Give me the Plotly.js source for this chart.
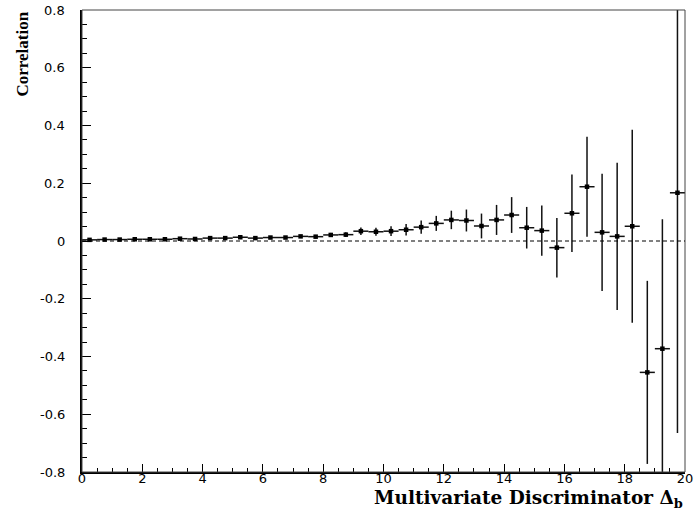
<!DOCTYPE html>
<html>
<head>
<meta charset="utf-8">
<script src="https://cdn.plot.ly/plotly-3.0.1.min.js"></script>
<style>html,body{margin:0;padding:0;background:#fff;}#chart{width:694px;height:514px;}</style>
</head>
<body>
<div id="chart"></div>
<script>
// bin centres of the multivariate discriminator (bin width 0.5)
const binCenters = [0.25,0.75,1.25,1.75,2.25,2.75,3.25,3.75,4.25,4.75,
  5.25,5.75,6.25,6.75,7.25,7.75,8.25,8.75,9.25,9.75,
  10.25,10.75,11.25,11.75,12.25,12.75,13.25,13.75,14.25,14.75,
  15.25,15.75,16.25,16.75,17.25,17.75,18.25,18.75,19.25,19.75];
const correlation = [0.004,0.005,0.005,0.006,0.006,0.006,0.008,0.007,0.010,0.010,
  0.013,0.010,0.012,0.012,0.016,0.015,0.021,0.022,0.034,0.032,
  0.034,0.039,0.048,0.061,0.073,0.071,0.052,0.073,0.090,0.046,
  0.036,-0.023,0.096,0.188,0.030,0.016,0.051,-0.455,-0.373,0.167];
const corrError = [0.002,0.002,0.002,0.002,0.002,0.003,0.003,0.003,0.003,0.003,
  0.004,0.004,0.004,0.005,0.005,0.006,0.007,0.008,0.013,0.014,
  0.017,0.020,0.023,0.026,0.032,0.038,0.043,0.052,0.062,0.072,
  0.087,0.103,0.134,0.173,0.203,0.255,0.334,0.317,0.448,0.832];
const halfBin = 0.25;
const xTicks = [0,2,4,6,8,10,12,14,16,18,20];
const yTicks = [-0.8,-0.6,-0.4,-0.2,0,0.2,0.4,0.6,0.8];
const yTickText = ["-0.8","-0.6","-0.4","-0.2","0","0.2","0.4","0.6","0.8"];

const trace = {
  x: binCenters, y: correlation, type: 'scatter', mode: 'markers',
  marker: {symbol: 'square', size: 4.5, color: '#000'},
  error_y: {type: 'data', array: corrError, visible: true, color: '#111', thickness: 1.5, width: 0},
  error_x: {type: 'constant', value: halfBin, visible: true, color: '#111', thickness: 1.5, width: 0},
  hoverinfo: 'x+y'
};

const tickFont = {family: 'DejaVu Sans, Arial, sans-serif', size: 13, color: '#000'};

// y tick labels placed as annotations, built from the tick arrays
const yLabelAnnotations = yTicks.map((v, i) => ({
  text: yTickText[i], xref: 'paper', yref: 'y', x: 0, y: v,
  xanchor: 'right', yanchor: 'middle', xshift: -15, showarrow: false, font: tickFont
}));

const layout = {
  width: 694, height: 514,
  margin: {l: 82, r: 9, t: 10, b: 42},
  paper_bgcolor: '#fff', plot_bgcolor: '#fff',
  showlegend: false,
  xaxis: {
    range: [0, 20], tickvals: xTicks, ticktext: xTicks.map(String),
    ticks: 'inside', ticklen: 8, tickwidth: 1, tickcolor: '#000',
    minor: {dtick: 0.5, tick0: 0, ticks: 'inside', ticklen: 4, tickwidth: 1, tickcolor: '#000'},
    showgrid: false, zeroline: false, showline: true, linewidth: 2, linecolor: '#000',
    tickfont: tickFont, ticklabelstandoff: -7
  },
  yaxis: {
    range: [-0.8, 0.8], tickvals: yTicks, showticklabels: false,
    ticks: 'inside', ticklen: 9, tickwidth: 1, tickcolor: '#000',
    minor: {dtick: 0.05, tick0: 0, ticks: 'inside', ticklen: 5, tickwidth: 1, tickcolor: '#000'},
    showgrid: false, zeroline: false, showline: true, linewidth: 2, linecolor: '#000'
  },
  shapes: [
    {type: 'rect', xref: 'paper', yref: 'paper', x0: 0, x1: 1, y0: 0, y1: 1,
     line: {color: '#444', width: 1}, fillcolor: 'rgba(0,0,0,0)'},
    {type: 'line', xref: 'x', yref: 'y', x0: 0, x1: 20, y0: 0, y1: 0,
     line: {color: '#000', width: 1, dash: '4px,3px'}}
  ],
  annotations: yLabelAnnotations.concat([
    {text: 'Multivariate Discriminator Δ<sub>b</sub>', xref: 'paper', yref: 'paper',
     x: 1, y: 0, xanchor: 'right', yanchor: 'top', yshift: -13, showarrow: false,
     font: {family: 'DejaVu Serif, Liberation Serif, serif', size: 18.5, color: '#000', weight: 'bold'}},
    {text: 'Correlation', xref: 'paper', yref: 'paper',
     x: 0, y: 1, xanchor: 'center', yanchor: 'top', xshift: -60, yshift: 0, textangle: -90, showarrow: false,
     font: {family: 'Liberation Serif, Times New Roman, serif', size: 17, color: '#000', weight: 'bold'}}
  ])
};

Plotly.newPlot('chart', [trace], layout, {displayModeBar: false, staticPlot: true});
</script>
</body>
</html>
